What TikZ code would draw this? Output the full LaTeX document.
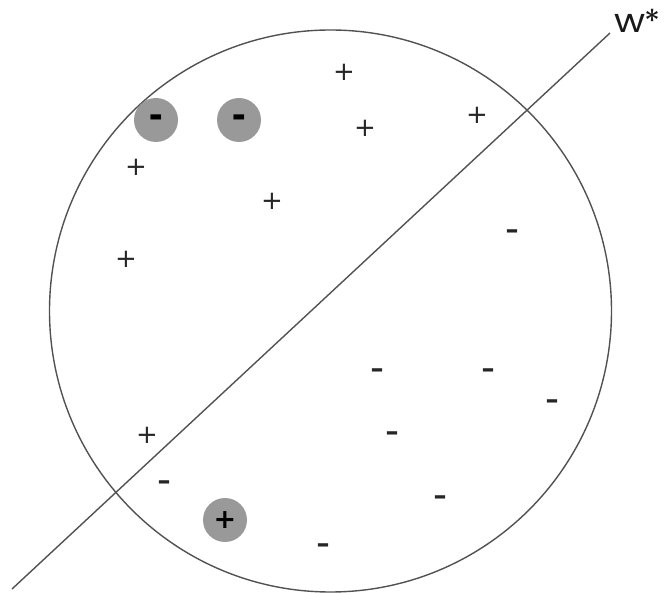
\documentclass[tikz,border=0pt]{standalone}
\usepackage{fontspec}
\setmainfont{DejaVu Sans}
\newfontfamily\wfont{Poppins}
\begin{document}
\begin{tikzpicture}[x=1pt,y=-1pt,
  plusm/.style={inner sep=0pt, text=black!85, font=\fontsize{26}{26}\selectfont},
  minusm/.style={inner sep=0pt, text=black!85, yshift=-3pt, font=\bfseries\fontsize{26}{26}\selectfont},
  dot/.style={circle, fill=black!40, minimum size=44pt, inner sep=0pt, text=black, font=\bfseries\fontsize{27}{27}\selectfont},
  edge/.style={draw=black!68, line width=1.4pt}]
\useasboundingbox (0,0) rectangle (667,593);
\node[edge, circle, minimum size=562pt, inner sep=0pt] (ball) at (330.5,311) {};
\coordinate (lo) at (12,589);
\coordinate (hi) at (610,33);
\draw[edge] (lo) -- (hi);
\node[anchor=base west, inner sep=0pt, font=\wfont\fontsize{33}{33}\selectfont, text=black!90] (w) at (614,33) {\scalebox{1.15}[1]{w}\kern-0.03em\raisebox{-0.03em}{*}};
% gray dots
\node[dot] (d1) at (156,120) {\vphantom{+}\smash{\scalebox{1}[1.5]{–}}};
\node[dot] (d2) at (239,120) {\vphantom{+}\smash{\scalebox{1}[1.5]{–}}};
\node[dot] (d3) at (225,520) {+};
% plus
\node[plusm] (p1) at (344,72) {+};
\node[plusm] (p2) at (365,128) {+};
\node[plusm] (p3) at (477,115) {+};
\node[plusm] (p4) at (136,167) {+};
\node[plusm] (p5) at (272,201) {+};
\node[plusm] (p6) at (126,259) {+};
\node[plusm] (p7) at (147,435) {+};
% minus
\node[minusm] (m1) at (512,231) {–};
\node[minusm] (m2) at (377,370) {–};
\node[minusm] (m3) at (488,370) {–};
\node[minusm] (m4) at (552,401) {–};
\node[minusm] (m5) at (392,433) {–};
\node[minusm] (m6) at (164,482) {–};
\node[minusm] (m7) at (440,497) {–};
\node[minusm] (m8) at (323,545) {–};
\end{tikzpicture}
\end{document}
